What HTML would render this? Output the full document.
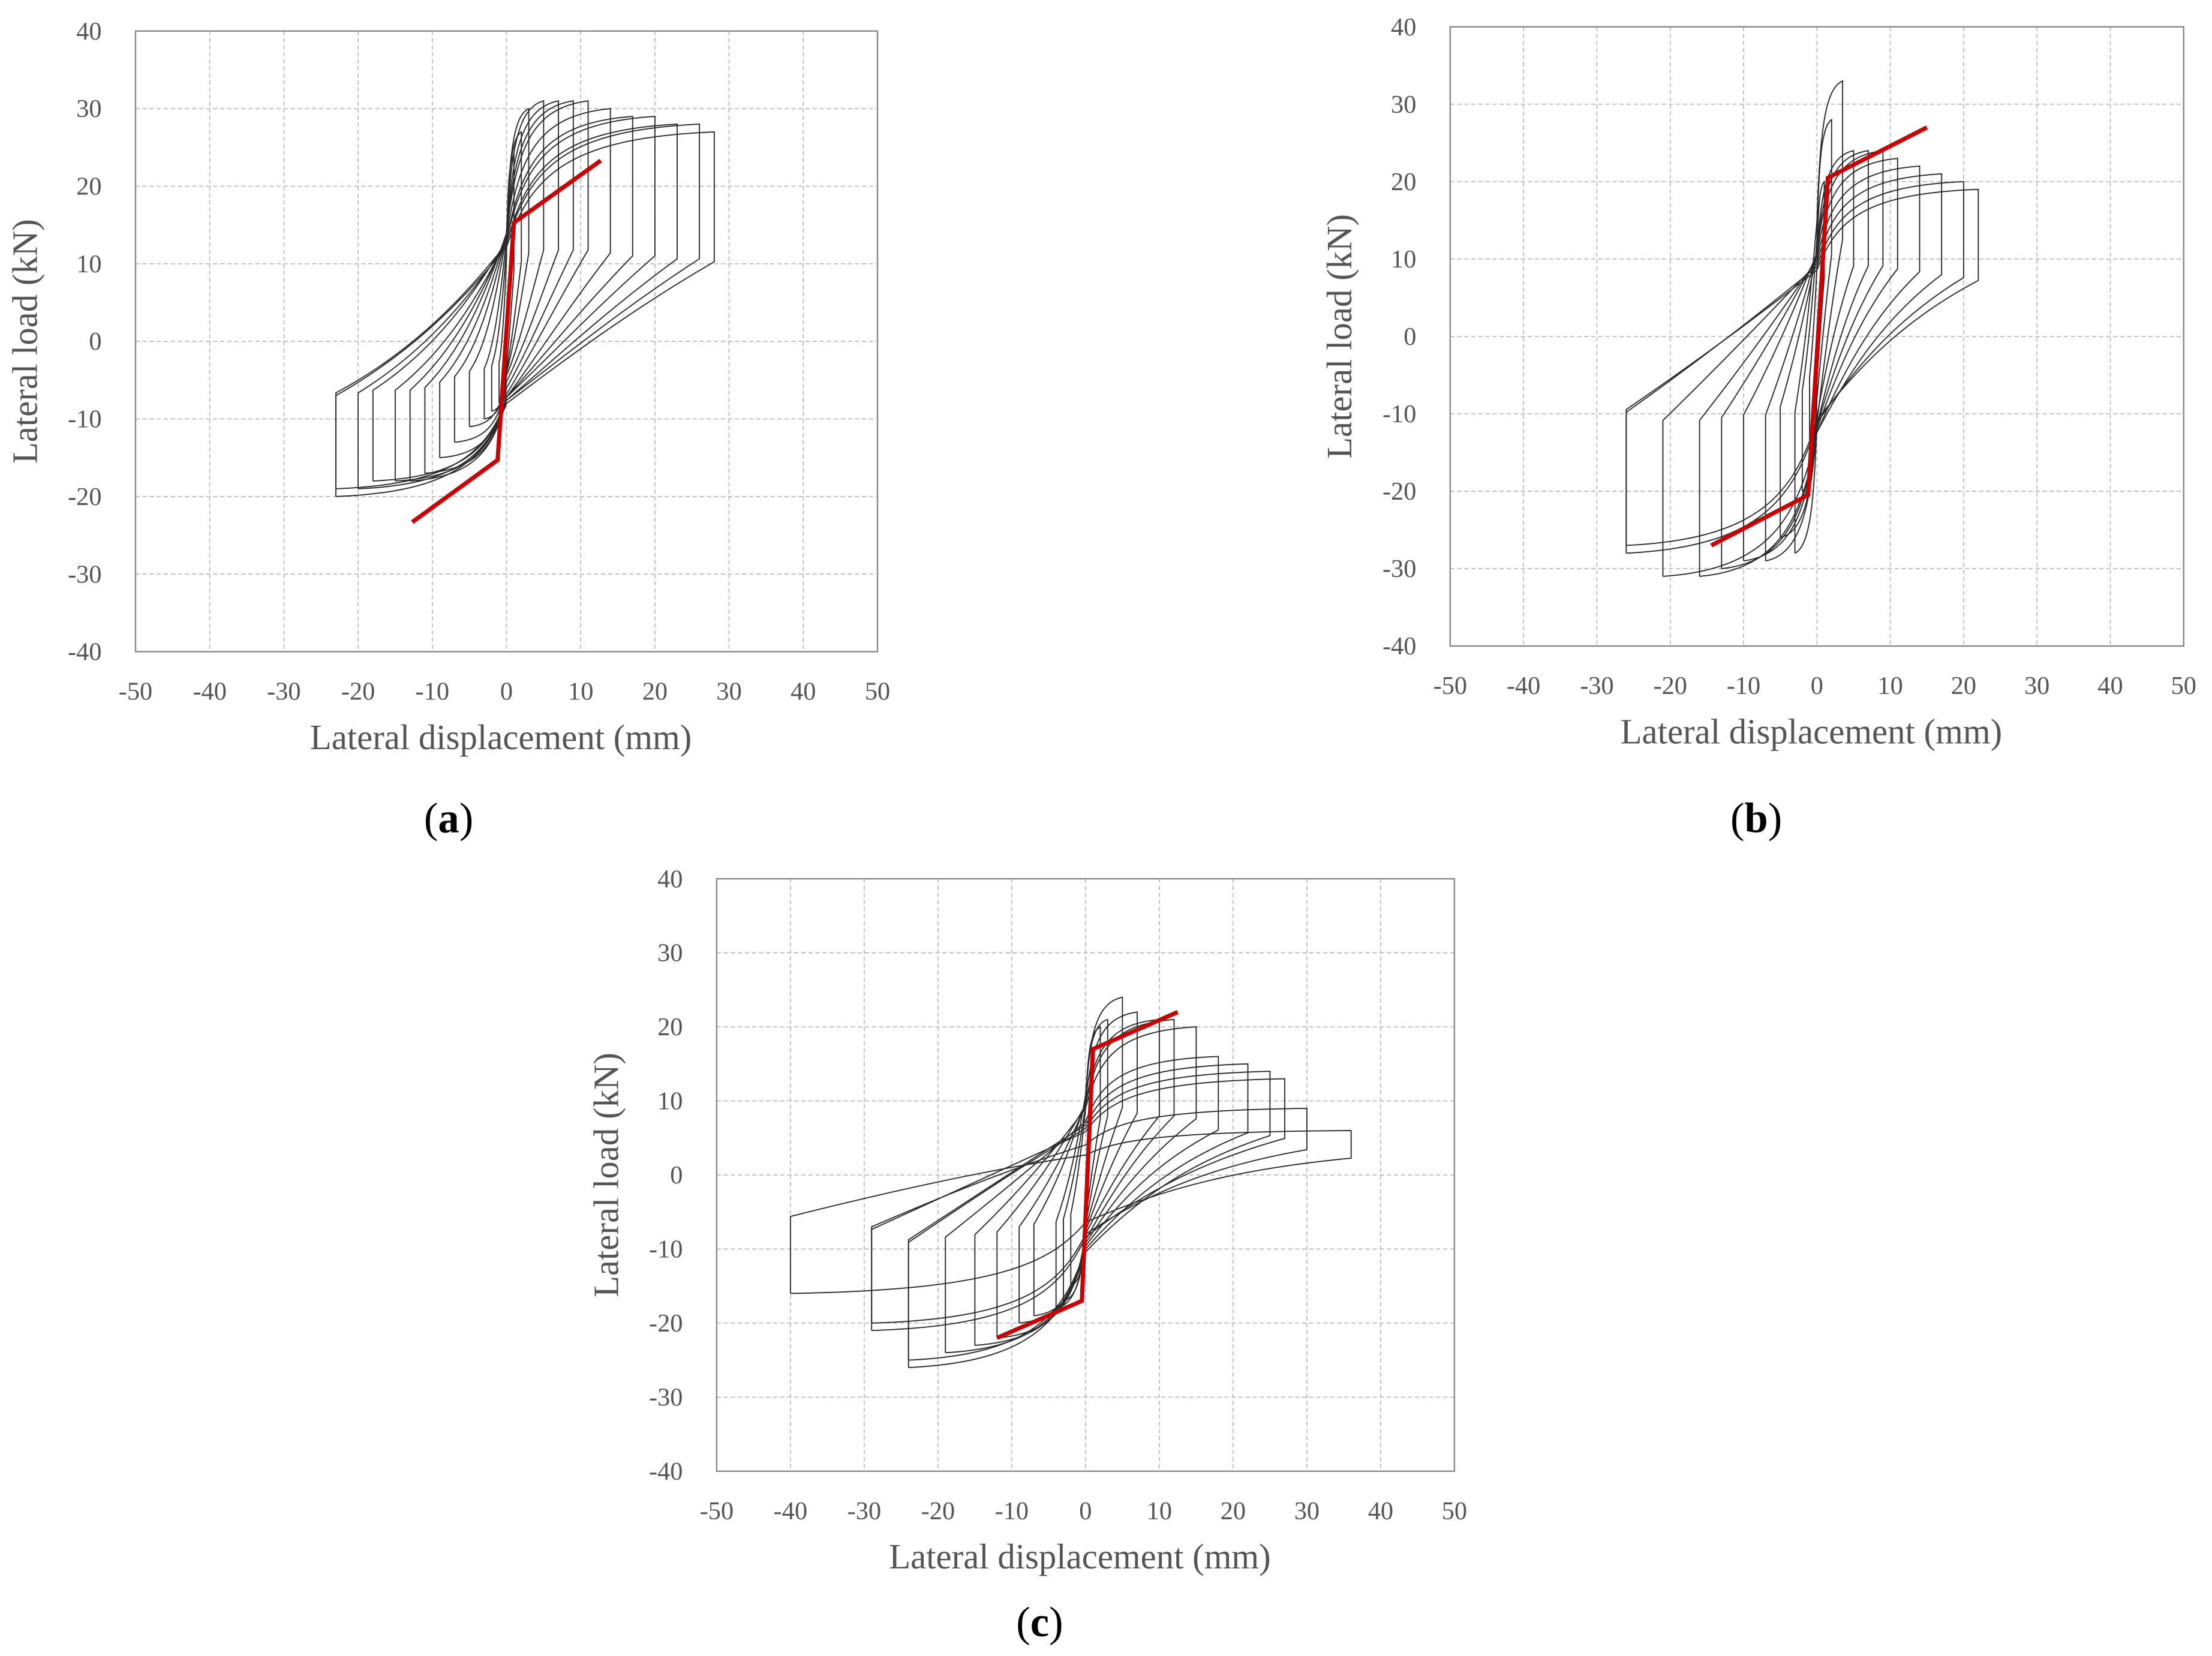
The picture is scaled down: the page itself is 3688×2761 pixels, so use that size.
<!DOCTYPE html>
<html><head><meta charset="utf-8">
<style>
html,body{margin:0;padding:0;background:#fff;}
svg{display:block;}
text{font-family:"Liberation Serif",serif;}
</style></head>
<body>
<svg id="fig" width="3688" height="2761" viewBox="0 0 1568 1174" xmlns="http://www.w3.org/2000/svg"></svg>
<script>
// ---- data ----
const xTicks = [-50,-40,-30,-20,-10,0,10,20,30,40,50];
const yTicks = [40,30,20,10,0,-10,-20,-30,-40];

// panel a
const aPosDisp = [1,2,3,5,7,9,11,14,17,20,23,26,28];
const aPosLoad = [24,27,30,31,31,31,31,30,29,29,28,28,27];
const aNegDisp = [-1,-2,-3,-5,-7,-9,-11,-13,-15,-18,-20,-23,-23];
const aNegLoad = [-8,-9,-10,-11,-13,-15,-17,-18,-18,-18,-19,-19,-20];
const aRedX = [-12.7,-1.2,1,12.7];
const aRedY = [-23.3,-15.3,15.3,23.3];

// panel b
const bPosDisp = [1,2,3.5,5,7,9,11,14,17,20,22];
const bPosLoad = [20,28,33,24,24,24,23,22,21,20,19];
const bNegDisp = [-1,-2,-3,-5,-7,-10,-13,-16,-21,-26,-26];
const bNegLoad = [-15,-20,-28,-26,-29,-29,-30,-31,-31,-28,-27];
const bRedX = [-14.4,-1.2,1.5,15];
const bRedY = [-27,-20.5,20.5,27];

// panel c
const cPosDisp = [2,3,5,7,10,12,15,18,22,25,27,30,36];
const cPosLoad = [20,21,24,22,21,21,20,16,15,14,13,9,6];
const cNegDisp = [-2,-3,-4,-7,-9,-12,-15,-19,-24,-24,-29,-29,-40];
const cNegLoad = [-15,-17,-18,-19,-20,-22,-23,-24,-25,-26,-21,-20,-16];
const cRedX = [-12,-0.5,1,12.5];
const cRedY = [-22,-17,17,22];

const NS = "http://www.w3.org/2000/svg";
const svg = document.getElementById('fig');
function el(tag, attrs, parent){
  const e = document.createElementNS(NS, tag);
  for (const k in attrs) e.setAttribute(k, attrs[k]);
  (parent||svg).appendChild(e);
  return e;
}

function panel(id, box, posD, posF, negD, negF, redX, redY, label){
  const g = el('g', {});
  
  
  const sx = v => box.x0 + (v + 50) / 100 * (box.x1 - box.x0);
  const sy = v => box.y0 + (40 - v) / 80 * (box.y1 - box.y0);
  xTicks.forEach(t => {
    if (t === -50 || t === 50) return;
    const l = el('line', {x1:sx(t), x2:sx(t), y1:box.y0, y2:box.y1, stroke:'#b8b8b8', 'stroke-width':0.7, 'stroke-dasharray':'3,2'}, g);
    
    
  });
  yTicks.forEach(t => {
    if (t === 40 || t === -40) return;
    const l = el('line', {x1:box.x0, x2:box.x1, y1:sy(t), y2:sy(t), stroke:'#b8b8b8', 'stroke-width':0.7, 'stroke-dasharray':'3,2'}, g);
    
    
  });
  const fr = el('rect', {x:box.x0, y:box.y0, width:box.x1-box.x0, height:box.y1-box.y0, fill:'none', stroke:'#888', 'stroke-width':1}, g);
  
  
  xTicks.forEach(t => {
    const tx = el('text', {x:sx(t), y:box.y1+34, 'font-size':18, fill:'#555', 'text-anchor':'middle'}, g);
    tx.textContent = t;
    
    
  });
  yTicks.forEach(t => {
    const tx = el('text', {x:box.x0-24, y:sy(t)+6, 'font-size':18, fill:'#555', 'text-anchor':'end'}, g);
    tx.textContent = t;
    
    
  });
  const xt = el('text', {x:(box.x0+box.x1)/2-4, y:box.y1+69, 'font-size':25, fill:'#555', 'text-anchor':'middle'}, g);
  xt.textContent = 'Lateral displacement (mm)';
  
  
  const ycx = box.x0 - 70, ycy = (box.y0+box.y1)/2;
  const yt = el('text', {x:ycx, y:ycy, 'font-size':25, fill:'#555', 'text-anchor':'middle', transform:`rotate(-90 ${ycx} ${ycy})`}, g);
  yt.textContent = 'Lateral load (kN)';
  
  
  const n = Math.max(posD.length, negD.length);
  for (let i = 0; i < n; i++){
    const dp = posD[Math.min(i,posD.length-1)], Fp = posF[Math.min(i,posF.length-1)];
    const dn = negD[Math.min(i,negD.length-1)], Fn = negF[Math.min(i,negF.length-1)];
    const d = `M${sx(dn)},${sy(Fn)} L${sx(dn)},${sy(Fn*0.35)} ` +
      `C${sx(dn*0.6)},${sy(Fn*0.1)} ${sx(dn*0.3)},${sy(Fp*0.15)} ${sx(0)},${sy(Fp*0.45)} ` +
      `C${sx(dp*0.12)},${sy(Fp*0.8)} ${sx(dp*0.3)},${sy(Fp*0.97)} ${sx(dp)},${sy(Fp)} ` +
      `L${sx(dp)},${sy(Fp*0.38)} ` +
      `C${sx(dp*0.6)},${sy(Fp*0.15)} ${sx(dp*0.3)},${sy(Fn*0.1)} ${sx(0)},${sy(Fn*0.4)} ` +
      `C${sx(dn*0.12)},${sy(Fn*0.75)} ${sx(dn*0.3)},${sy(Fn*0.97)} ${sx(dn)},${sy(Fn)}`;
    const p = el('path', {d:d, fill:'none', stroke:'#2a2a2a', 'stroke-width':0.8}, g);
    
    
  }
  const pts = redX.map((x,i) => sx(x)+','+sy(redY[i])).join(' ');
  const r = el('polyline', {points:pts, fill:'none', stroke:'#cc0000', 'stroke-width':3}, g);
  
  
  const pl = el('text', {x:label.x, y:label.y, 'font-size':30, fill:'#000', 'text-anchor':'middle'}, g);
  pl.innerHTML = '(<tspan font-weight="bold">' + id + '</tspan>)';
  
  
}

panel('a', {x0:96, x1:622, y0:22, y1:462}, aPosDisp, aPosLoad, aNegDisp, aNegLoad, aRedX, aRedY, {x:318, y:590});
panel('b', {x0:1028, x1:1548, y0:19, y1:458}, bPosDisp, bPosLoad, bNegDisp, bNegLoad, bRedX, bRedY, {x:1245, y:590});
panel('c', {x0:508, x1:1031, y0:623, y1:1043}, cPosDisp, cPosLoad, cNegDisp, cNegLoad, cRedX, cRedY, {x:737, y:1160});
</script>
</body></html>
